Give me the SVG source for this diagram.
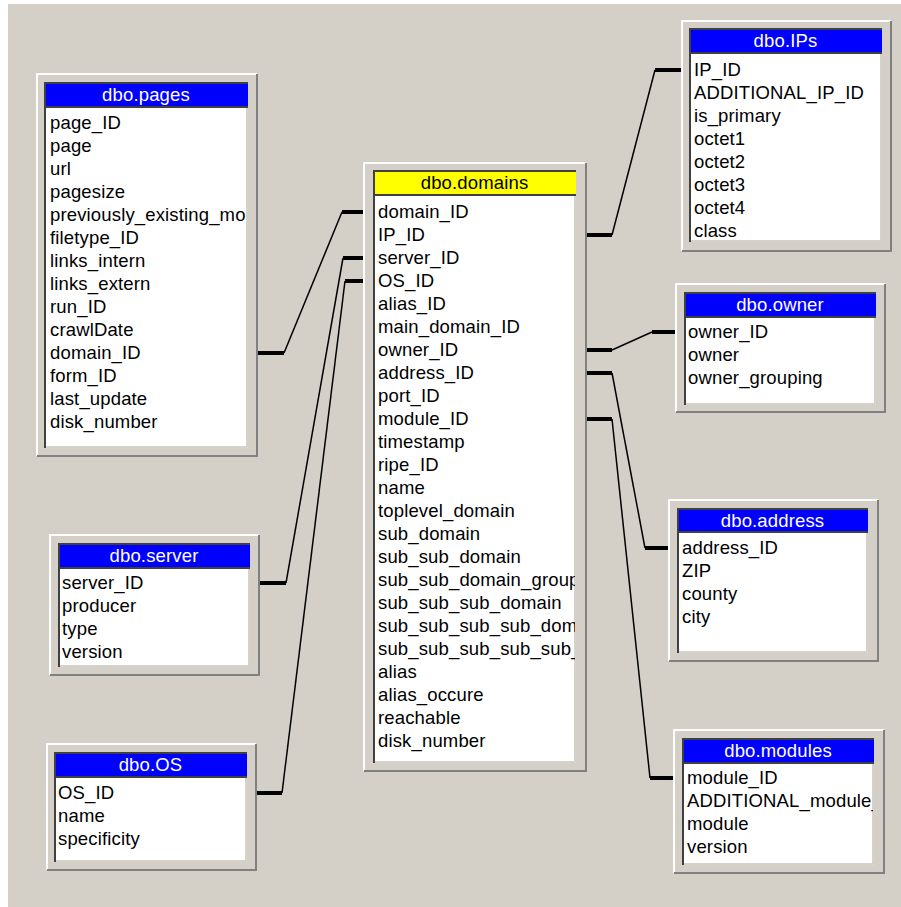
<svg xmlns="http://www.w3.org/2000/svg" width="901" height="907" viewBox="0 0 901 907">
<style>
.bg{fill:#d4d0c8}
.frame{fill:#d4d0c8}
.hl{stroke:#ffffff;stroke-width:2;fill:none}
.sh{stroke:#808080;stroke-width:2;fill:none}
.body{fill:#ffffff}
.hdr{fill:#0000ff}
.hdry{fill:#ffff00}
.dk{stroke:#404040;stroke-width:2;fill:none}
.lt{stroke:#c8c4bc;stroke-width:1.5;fill:none}
.title{font-family:"Liberation Sans",Arial,sans-serif;font-size:18.5px;fill:#ffffff;text-anchor:middle;letter-spacing:0.15px}
.titley{font-family:"Liberation Sans",Arial,sans-serif;font-size:18.5px;fill:#000000;text-anchor:middle;letter-spacing:0.15px}
.f{font-family:"Liberation Sans",Arial,sans-serif;font-size:18.5px;fill:#000000;letter-spacing:0.15px}
.thick{stroke:#000;stroke-width:4;fill:none}
.thin{stroke:#000;stroke-width:1.5;fill:none}
</style>
<defs>
<clipPath id="cp-pages"><rect x="44" y="107" width="203" height="341"/></clipPath>
<clipPath id="cp-domains"><rect x="373" y="195" width="202" height="568"/></clipPath>
<clipPath id="cp-modules"><rect x="682" y="763" width="191" height="102"/></clipPath>
</defs>
<rect class="bg" x="8" y="4" width="893" height="903"/>

<g id="connectors">
<path class="thick" d="M258,353 H284"/><path class="thin" d="M284,353 L342,212"/><path class="thick" d="M342,212 H364"/>
<path class="thick" d="M364,258 H343"/><path class="thin" d="M343,258 L286,583"/><path class="thick" d="M286,583 H260"/>
<path class="thick" d="M364,281 H345"/><path class="thin" d="M345,281 L282,793"/><path class="thick" d="M282,793 H257"/>
<path class="thick" d="M587,235 H612"/><path class="thin" d="M612,235 L655,70"/><path class="thick" d="M655,70 H681"/>
<path class="thick" d="M587,350 H612"/><path class="thin" d="M612,350 L652,332"/><path class="thick" d="M652,332 H675"/>
<path class="thick" d="M587,373 H612"/><path class="thin" d="M612,373 L645,548"/><path class="thick" d="M645,548 H668"/>
<path class="thick" d="M587,419 H612"/><path class="thin" d="M612,419 L650,778"/><path class="thick" d="M650,778 H673"/>
</g>

<g id="t-pages">
<rect class="frame" x="36" y="73" width="222" height="384"/>
<path class="hl" d="M37,456 V74 H257"/><path class="sh" d="M37,456 H257 V74"/>
<rect class="body" x="44" y="107" width="204" height="341"/>
<rect class="hdr" x="44" y="82" width="204" height="25"/>
<path class="lt" d="M46,447 H247 V108"/>
<path class="dk" d="M45,448 V83 H248"/><line class="dk" x1="44" y1="107" x2="248" y2="107"/>
<text class="title" x="146" y="101">dbo.pages</text>
<g clip-path="url(#cp-pages)">
<text class="f" x="50" y="129">page_ID</text>
<text class="f" x="50" y="152">page</text>
<text class="f" x="50" y="175">url</text>
<text class="f" x="50" y="198">pagesize</text>
<text class="f" x="50" y="221">previously_existing_mo</text>
<text class="f" x="50" y="244">filetype_ID</text>
<text class="f" x="50" y="267">links_intern</text>
<text class="f" x="50" y="290">links_extern</text>
<text class="f" x="50" y="313">run_ID</text>
<text class="f" x="50" y="336">crawlDate</text>
<text class="f" x="50" y="359">domain_ID</text>
<text class="f" x="50" y="382">form_ID</text>
<text class="f" x="50" y="405">last_update</text>
<text class="f" x="50" y="428">disk_number</text>
</g>
</g>

<g id="t-domains">
<rect class="frame" x="363" y="162" width="224" height="610"/>
<path class="hl" d="M364,771 V163 H586"/><path class="sh" d="M364,771 H586 V163"/>
<rect class="body" x="373" y="195" width="203" height="568"/>
<rect class="hdry" x="373" y="170" width="203" height="25"/>
<path class="lt" d="M375,762 H575 V196"/>
<path class="dk" d="M374,763 V171 H576"/><line class="dk" x1="373" y1="195" x2="576" y2="195"/>
<text class="titley" x="474.5" y="189">dbo.domains</text>
<g clip-path="url(#cp-domains)">
<text class="f" x="378" y="218">domain_ID</text>
<text class="f" x="378" y="241">IP_ID</text>
<text class="f" x="378" y="264">server_ID</text>
<text class="f" x="378" y="287">OS_ID</text>
<text class="f" x="378" y="310">alias_ID</text>
<text class="f" x="378" y="333">main_domain_ID</text>
<text class="f" x="378" y="356">owner_ID</text>
<text class="f" x="378" y="379">address_ID</text>
<text class="f" x="378" y="402">port_ID</text>
<text class="f" x="378" y="425">module_ID</text>
<text class="f" x="378" y="448">timestamp</text>
<text class="f" x="378" y="471">ripe_ID</text>
<text class="f" x="378" y="494">name</text>
<text class="f" x="378" y="517">toplevel_domain</text>
<text class="f" x="378" y="540">sub_domain</text>
<text class="f" x="378" y="563">sub_sub_domain</text>
<text class="f" x="378" y="586">sub_sub_domain_group</text>
<text class="f" x="378" y="609">sub_sub_sub_domain</text>
<text class="f" x="378" y="632">sub_sub_sub_sub_dom</text>
<text class="f" x="378" y="655">sub_sub_sub_sub_sub_</text>
<text class="f" x="378" y="678">alias</text>
<text class="f" x="378" y="701">alias_occure</text>
<text class="f" x="378" y="724">reachable</text>
<text class="f" x="378" y="747">disk_number</text>
</g>
</g>

<g id="t-ips">
<rect class="frame" x="681" y="20" width="211" height="232"/>
<path class="hl" d="M682,251 V21 H891"/><path class="sh" d="M682,251 H891 V21"/>
<rect class="body" x="689" y="53" width="193" height="189"/>
<rect class="hdr" x="689" y="28" width="193" height="25"/>
<path class="lt" d="M691,241 H881 V54"/>
<path class="dk" d="M690,242 V29 H882"/><line class="dk" x1="689" y1="53" x2="882" y2="53"/>
<text class="title" x="785.5" y="47">dbo.IPs</text>
<text class="f" x="694" y="76">IP_ID</text>
<text class="f" x="694" y="99">ADDITIONAL_IP_ID</text>
<text class="f" x="694" y="122">is_primary</text>
<text class="f" x="694" y="145">octet1</text>
<text class="f" x="694" y="168">octet2</text>
<text class="f" x="694" y="191">octet3</text>
<text class="f" x="694" y="214">octet4</text>
<text class="f" x="694" y="237">class</text>
</g>

<g id="t-owner">
<rect class="frame" x="675" y="283" width="211" height="130"/>
<path class="hl" d="M676,412 V284 H885"/><path class="sh" d="M676,412 H885 V284"/>
<rect class="body" x="684" y="317" width="192" height="88"/>
<rect class="hdr" x="684" y="292" width="192" height="25"/>
<path class="lt" d="M686,404 H875 V318"/>
<path class="dk" d="M685,405 V293 H876"/><line class="dk" x1="684" y1="317" x2="876" y2="317"/>
<text class="title" x="780" y="311">dbo.owner</text>
<text class="f" x="688" y="338">owner_ID</text>
<text class="f" x="688" y="361">owner</text>
<text class="f" x="688" y="384">owner_grouping</text>
</g>

<g id="t-address">
<rect class="frame" x="668" y="499" width="211" height="163"/>
<path class="hl" d="M669,661 V500 H878"/><path class="sh" d="M669,661 H878 V500"/>
<rect class="body" x="677" y="532" width="191" height="121"/>
<rect class="hdr" x="677" y="508" width="191" height="24"/>
<path class="lt" d="M679,652 H867 V533"/>
<path class="dk" d="M678,653 V509 H868"/><line class="dk" x1="677" y1="532" x2="868" y2="532"/>
<text class="title" x="772.5" y="526.5">dbo.address</text>
<text class="f" x="682" y="554">address_ID</text>
<text class="f" x="682" y="577">ZIP</text>
<text class="f" x="682" y="600">county</text>
<text class="f" x="682" y="623">city</text>
</g>

<g id="t-modules">
<rect class="frame" x="673" y="729" width="212" height="145"/>
<path class="hl" d="M674,873 V730 H884"/><path class="sh" d="M674,873 H884 V730"/>
<rect class="body" x="682" y="763" width="192" height="102"/>
<rect class="hdr" x="682" y="738" width="192" height="25"/>
<path class="lt" d="M684,864 H873 V764"/>
<path class="dk" d="M683,865 V739 H874"/><line class="dk" x1="682" y1="763" x2="874" y2="763"/>
<text class="title" x="778" y="757">dbo.modules</text>
<g clip-path="url(#cp-modules)">
<text class="f" x="687" y="784">module_ID</text>
<text class="f" x="687" y="807">ADDITIONAL_module_</text>
<text class="f" x="687" y="830">module</text>
<text class="f" x="687" y="853">version</text>
</g>
</g>

<g id="t-server">
<rect class="frame" x="49" y="534" width="211" height="142"/>
<path class="hl" d="M50,675 V535 H259"/><path class="sh" d="M50,675 H259 V535"/>
<rect class="body" x="58" y="568" width="192" height="99"/>
<rect class="hdr" x="58" y="543" width="192" height="25"/>
<path class="lt" d="M60,666 H249 V569"/>
<path class="dk" d="M59,667 V544 H250"/><line class="dk" x1="58" y1="568" x2="250" y2="568"/>
<text class="title" x="154" y="562">dbo.server</text>
<text class="f" x="62" y="589">server_ID</text>
<text class="f" x="62" y="612">producer</text>
<text class="f" x="62" y="635">type</text>
<text class="f" x="62" y="658">version</text>
</g>

<g id="t-os">
<rect class="frame" x="46" y="743" width="211" height="128"/>
<path class="hl" d="M47,870 V744 H256"/><path class="sh" d="M47,870 H256 V744"/>
<rect class="body" x="54" y="777" width="193" height="85"/>
<rect class="hdr" x="54" y="752" width="193" height="25"/>
<path class="lt" d="M56,861 H246 V778"/>
<path class="dk" d="M55,862 V753 H247"/><line class="dk" x1="54" y1="777" x2="247" y2="777"/>
<text class="title" x="150.5" y="771">dbo.OS</text>
<text class="f" x="58" y="799">OS_ID</text>
<text class="f" x="58" y="822">name</text>
<text class="f" x="58" y="845">specificity</text>
</g>
</svg>
